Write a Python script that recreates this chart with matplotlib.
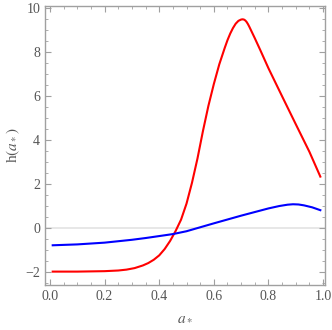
import matplotlib
matplotlib.use('Agg')
import matplotlib.pyplot as plt
from matplotlib.ticker import MultipleLocator

# values
a_red = [0.01, 0.10, 0.20, 0.25, 0.28, 0.31, 0.34, 0.36, 0.38, 0.40, 0.42, 0.44,
         0.46, 0.48, 0.50, 0.52, 0.54, 0.56, 0.58, 0.60, 0.62, 0.64, 0.65, 0.66,
         0.67, 0.68, 0.69, 0.70, 0.705, 0.71, 0.715, 0.72, 0.725, 0.73, 0.735,
         0.74, 0.75, 0.77, 0.80, 0.85, 0.90, 0.95, 0.99]
h_red = [-2.0, -2.0, -1.98, -1.95, -1.91, -1.84, -1.72, -1.61, -1.46, -1.26, -0.97, -0.6,
         -0.15, 0.37, 1.1, 2.05, 3.15, 4.4, 5.55, 6.55, 7.45, 8.2, 8.55, 8.85,
         9.1, 9.3, 9.43, 9.49, 9.5, 9.49, 9.45, 9.38, 9.28, 9.16, 9.03,
         8.9, 8.64, 8.1, 7.27, 5.99, 4.72, 3.46, 2.33]

a_blue = [0.01, 0.10, 0.20, 0.30, 0.35, 0.40, 0.45, 0.50, 0.55, 0.60, 0.70, 0.80, 0.84,
          0.87, 0.89, 0.91, 0.93, 0.96, 0.99]
h_blue = [-0.80, -0.76, -0.68, -0.55, -0.47, -0.38, -0.29, -0.16, 0.02, 0.20, 0.55, 0.88, 0.99,
          1.05, 1.07, 1.06, 1.02, 0.93, 0.80]

plt.rcParams['font.family'] = ['Liberation Serif', 'DejaVu Serif']
plt.rcParams['mathtext.fontset'] = 'stix'

fig = plt.figure(figsize=(3.32, 3.30), dpi=100)
ax = fig.add_axes([0.1355, 0.1364, 0.8445, 0.8463])

ax.axhline(0, color='#e3e3e3', lw=1.2, zorder=0)
ax.plot(a_red, h_red, color='#ff0000', lw=1.5, solid_joinstyle='round')
ax.plot(a_blue, h_blue, color='#0000ff', lw=1.5, solid_joinstyle='round')

ax.set_xlim(-0.0183, 1.0084)
ax.set_ylim(-2.61, 10.12)
ax.xaxis.set_major_locator(MultipleLocator(0.2))
ax.xaxis.set_minor_locator(MultipleLocator(0.05))
ax.yaxis.set_major_locator(MultipleLocator(2))
ax.yaxis.set_minor_locator(MultipleLocator(0.5))
ax.xaxis.set_major_formatter(plt.FuncFormatter(lambda v, p: '%.1f' % v))
ax.yaxis.set_major_formatter(plt.FuncFormatter(lambda v, p: ('\u2212%d' % -v) if v < 0 else '%d' % v))

for s in ax.spines.values():
    s.set_color('#a0a0a0')
    s.set_linewidth(1.0)
ax.tick_params(which='both', direction='in', top=True, right=True,
               color='#a0a0a0', labelcolor='#555555', labelsize=10)
ax.tick_params(which='major', length=4, width=0.8)
ax.tick_params(which='minor', length=2.2, width=0.6)

ax.set_xlabel(r'$a_*$', color='#555555', fontsize=11, labelpad=6)
ax.set_ylabel(r'h$(a_*)$', color='#555555', fontsize=11, labelpad=2)

fig.savefig('out.png', dpi=100)
